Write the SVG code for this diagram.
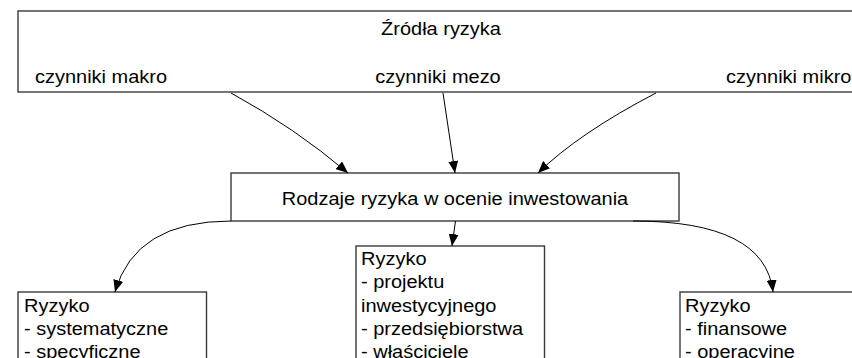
<svg xmlns="http://www.w3.org/2000/svg" width="852" height="358" viewBox="0 0 852 358">
<defs>
<style>
.box{fill:#fff;stroke:#3a3a3a;stroke-width:1.4}
.t{font-family:"Liberation Sans",Arial,sans-serif;font-size:18.5px;fill:#000}
.c{text-anchor:middle}
.edge{fill:none;stroke:#000;stroke-width:1;marker-end:url(#ah)}
</style>
<marker id="ah" viewBox="0 0 12 10" refX="12" refY="5" markerWidth="12" markerHeight="10" markerUnits="userSpaceOnUse" orient="auto"><path d="M0,0 L12,5 L0,10 z" fill="#000"/></marker>
</defs>
<rect width="852" height="358" fill="#fff"/>
<g id="zrodla">
<rect class="box" x="18" y="11" width="850" height="81"/>
<text class="t c" transform="translate(441 35) scale(1.08 1)">Źródła ryzyka</text>
<text class="t" transform="translate(35 83) scale(1.08 1)">czynniki makro</text>
<text class="t c" transform="translate(438 83) scale(1.08 1)">czynniki mezo</text>
<text class="t" transform="translate(726 83) scale(1.08 1)">czynniki mikro</text>
</g>
<g id="rodzaje">
<rect class="box" x="231" y="173" width="448" height="48"/>
<text class="t c" transform="translate(455 205) scale(1.08 1)">Rodzaje ryzyka w ocenie inwestowania</text>
</g>
<g id="ryzyko-lewe">
<rect class="box" x="18" y="292" width="188.5" height="80"/>
<text class="t" transform="translate(24 312) scale(1.08 1)"><tspan x="0">Ryzyko</tspan><tspan x="0" dy="23">- systematyczne</tspan><tspan x="0" dy="23">- specyficzne</tspan></text>
</g>
<g id="ryzyko-srodek">
<rect class="box" x="356" y="246" width="188.5" height="130"/>
<text class="t" transform="translate(361 265) scale(1.08 1)"><tspan x="0">Ryzyko</tspan><tspan x="0" dy="23.5">- projektu</tspan><tspan x="0" dy="23.5">inwestycyjnego</tspan><tspan x="0" dy="23">- przedsiębiorstwa</tspan><tspan x="0" dy="23">- właściciele</tspan></text>
</g>
<g id="ryzyko-prawe">
<rect class="box" x="680" y="292" width="190" height="80"/>
<text class="t" transform="translate(685 312) scale(1.08 1)"><tspan x="0">Ryzyko</tspan><tspan x="0" dy="23">- finansowe</tspan><tspan x="0" dy="23">- operacyjne</tspan></text>
</g>
<g id="connectors">
<path class="edge" d="M231,93 Q295,128 348,173"/>
<path class="edge" d="M443,93 L455,173"/>
<path class="edge" d="M656,93 Q579,133 538,173"/>
<path class="edge" d="M231,221 Q135,221 115,292"/>
<path class="edge" d="M455.5,221 L452,246"/>
<path class="edge" d="M633,221 Q765,221 773,292"/>
</g>
</svg>
